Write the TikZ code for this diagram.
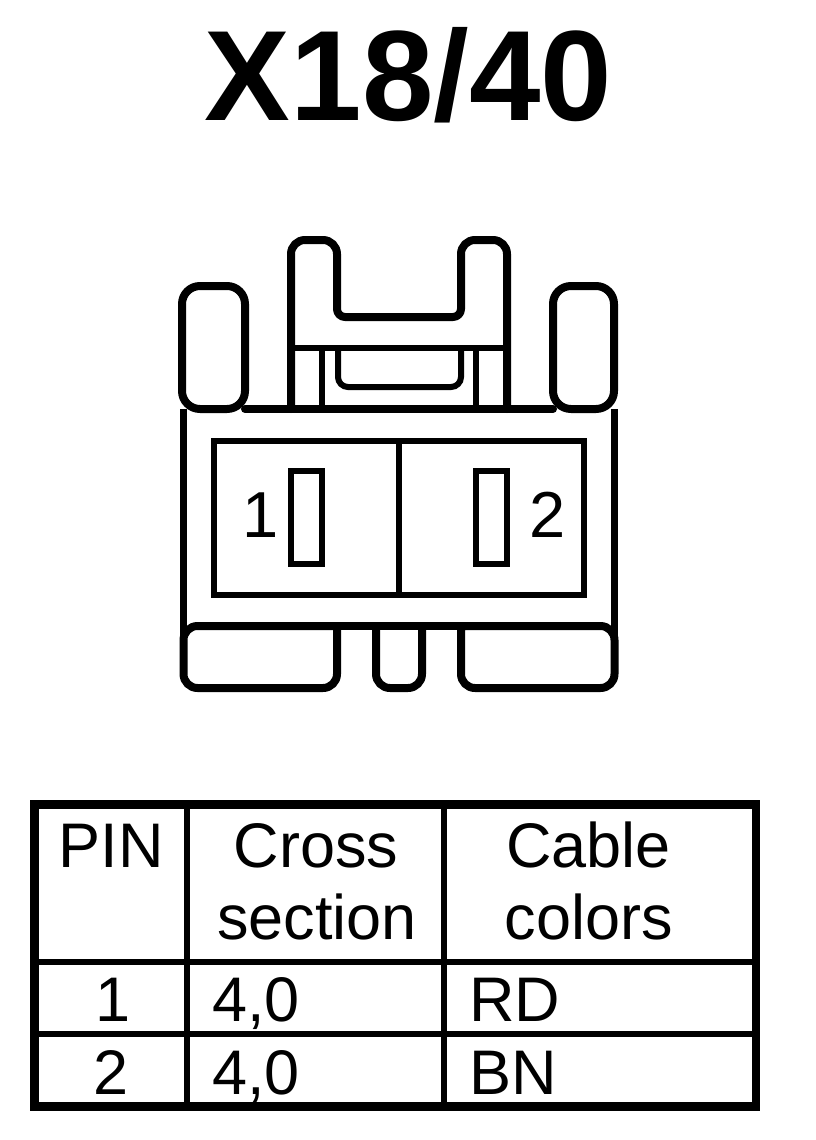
\documentclass[tikz,border=0pt]{standalone}
\usepackage{fontspec}
\setmainfont{Liberation Sans}
\usetikzlibrary{calc}
\tikzset{
	outline/.style={line width=8pt,line join=round,line cap=round},
	body line/.style={line width=7.5pt},
	inner line/.style={line width=6pt,line join=miter},
	frame line/.style={line width=8.5pt,line join=miter},
	grid line/.style={line width=6pt},
	label text/.style={inner sep=0pt,anchor=base,font=\fontsize{65}{65}\selectfont},
	table text/.style={inner sep=0pt,anchor=base,font=\fontsize{63}{63}\selectfont},
	table cell/.style={inner sep=0pt,anchor=base west,font=\fontsize{63}{63}\selectfont}
}
\begin{document}
\begin{tikzpicture}[x=1pt,y=-1pt]
	\useasboundingbox (0,0) rectangle (816,1140);
	\node[inner sep=0pt,anchor=base,font=\fontsize{128.5}{128}\selectfont\bfseries] (title) at (408.5,120) {X18/40};
	% side tabs
	\foreach \left/\right in {182/245, 553/614} {
		\draw[outline,rounded corners=18pt] (\left,286) rectangle (\right,409);
	}
	% top latch
	\draw[outline,rounded corners=14pt] (291,409) -- (291,240) -- (337,240)
		[rounded corners=8pt] -- (337,317) -- (461,317)
		[rounded corners=14pt] -- (461,240) -- (507,240) -- (507,409);
	\draw[outline] (245,409) -- (553,409);
	\draw[inner line] (291,348) -- (507,348);
	\foreach \xpos in {322,476} {
		\draw[inner line] (\xpos,348) -- (\xpos,409);
	}
	\draw[inner line,rounded corners=10pt] (338,348) -- (338,387) -- (461,387) -- (461,348);
	% body
	\draw[body line] (183.5,409) -- (183.5,642);
	\draw[body line] (614.5,409) -- (614.5,642);
	\draw[inner line] (213.5,441) rectangle (584,595);
	\draw[inner line] (399,441) -- (399,595);
	\foreach \left/\right in {291/322, 476/507} {
		\draw[inner line] (\left,471) rectangle (\right,564);
	}
	\node[label text] (label1) at (261,537) {1};
	\node[label text] (label2) at (548,537) {2};
	% feet
	\draw[outline,rounded corners=14pt] (337,626) -- (337,688) -- (183.5,688) -- (183.5,626) -- (337,626);
	\draw[outline,rounded corners=14pt] (461,626) -- (461,688) -- (614.5,688) -- (614.5,626) -- (461,626);
	\draw[outline] (337,626) -- (461,626);
	\draw[outline,rounded corners=14pt] (376,626) -- (376,688) -- (422,688) -- (422,626);
	% table
	\draw[frame line] (34.3,804.3) rectangle (756,1106.3);
	\foreach \xpos in {187,444} {
		\draw[grid line] (\xpos,804) -- (\xpos,1106);
	}
	\foreach \ypos in {962,1034} {
		\draw[grid line] (34,\ypos) -- (756,\ypos);
	}
	\node[table text] (pinhead) at (111,867.5) {PIN};
	\node[table text] (crosshead) at (316,867.5) {Cross};
	\node[table text] (sectionhead) at (317,939) {section};
	\node[table text] (cablehead) at (588.5,867.5) {Cable};
	\node[table text] (colorshead) at (589,939) {colors};
	\foreach \row/\ypos/\xpos/\colorname in {1/1021.5/113/RD, 2/1094/111/BN} {
		\node[table text] (pin\row) at (\xpos,\ypos) {\row};
		\node[table cell] (section\row) at (212,\ypos) {4,0};
		\node[table cell] (color\row) at (469,\ypos) {\colorname};
	}
\end{tikzpicture}
\end{document}
